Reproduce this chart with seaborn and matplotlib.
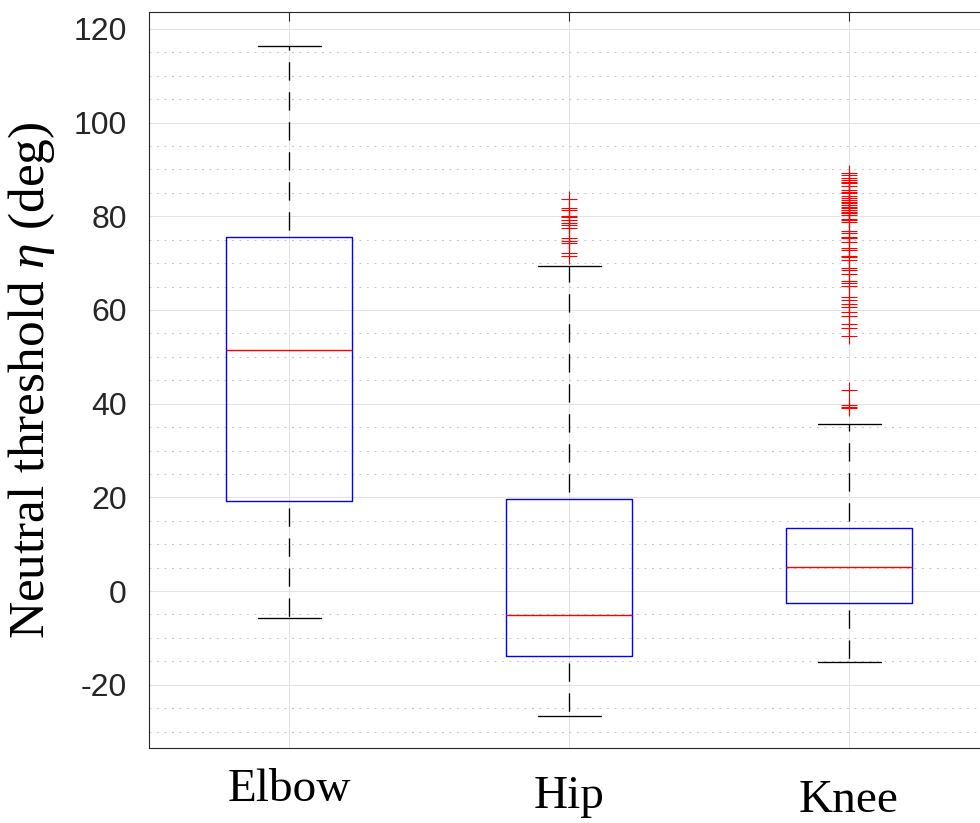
import pandas as pd
import matplotlib.pyplot as plt
from matplotlib.ticker import MultipleLocator
from matplotlib.transforms import ScaledTranslation
import seaborn as sns

# Box summary (deg)
JOINTS = ['Elbow', 'Hip', 'Knee']
WHISKER_LOW = [-5.8, -26.7, -15.2]
Q1 = [19.2, -13.9, -2.6]
MEDIAN = [51.4, -5.1, 5.1]
Q3 = [75.6, 19.6, 13.4]
WHISKER_HIGH = [116.3, 69.4, 35.6]

# Outliers (red +)
ELBOW_OUTLIERS = []
HIP_OUTLIERS = [83.6, 81.8, 81.3, 80.0, 79.8, 79.2, 78.6, 78.1, 77.6,
                75.3, 74.7, 74.2, 72.1, 71.5]
KNEE_OUTLIERS = [89.3, 88.8, 88.1, 87.7, 87.4, 87.0, 86.4, 85.6, 85.2, 84.9,
                 84.3, 83.8, 83.5, 83.1, 82.8, 82.4, 82.0, 81.7, 81.3, 81.0,
                 80.6, 80.3, 79.5, 79.2, 78.7, 76.8, 76.5, 75.6, 75.3, 74.6,
                 73.3, 72.8, 71.6, 71.2, 70.7, 68.9, 68.5, 67.6, 66.2, 65.7,
                 65.2, 62.8, 62.1, 61.3, 60.7, 59.6, 58.7, 56.9, 56.1, 54.5,
                 42.9, 39.7, 39.3, 39.0]
OUTLIERS = [ELBOW_OUTLIERS, HIP_OUTLIERS, KNEE_OUTLIERS]

# the original labels don't share a baseline (pixels down)
LABEL_SHIFT = [0, 7, 11]


def build_table():
    """Long table whose quartiles/whiskers reproduce the summary above."""
    rows = []
    for i, joint in enumerate(JOINTS):
        k = 1 + len(OUTLIERS[i])  # n = 4k + 1 -> quartiles land on samples
        vals = ([WHISKER_LOW[i]] + [Q1[i]] * k + [MEDIAN[i]] * k
                + [Q3[i]] * k + [WHISKER_HIGH[i]] + OUTLIERS[i])
        rows += [(joint, v) for v in vals]
    return pd.DataFrame(rows, columns=['joint', 'value'])


def main():
    df = build_table()

    sns.set_style('white')
    plt.rcParams['font.family'] = ['Liberation Sans', 'DejaVu Sans']
    plt.rcParams['mathtext.fontset'] = 'custom'
    plt.rcParams['mathtext.rm'] = 'Liberation Serif'
    plt.rcParams['mathtext.it'] = 'Liberation Serif:italic'
    plt.rcParams['lines.scale_dashes'] = False
    plt.rcParams['axes.unicode_minus'] = False

    fig = plt.figure(figsize=(9.8, 8.23), dpi=100)
    ax = fig.add_axes([149 / 980, 75 / 823, 840 / 980, 736 / 823])

    sns.boxplot(data=df, x='joint', y='value', order=JOINTS, ax=ax,
                fill=False, width=0.45, whis=1.5, linewidth=1.0,
                color='blue', fliersize=11.5,
                boxprops=dict(color='blue', linewidth=1.0),
                medianprops=dict(color='red', linewidth=1.0),
                whiskerprops=dict(color='black', linewidth=0.95,
                                  linestyle=(16.6, (13.2, 8.4))),
                capprops=dict(color='black', linewidth=0.95),
                flierprops=dict(marker='+', markeredgecolor='red',
                                markeredgewidth=0.8))

    ax.set_xlim(-0.5, 2.5)
    ax.set_ylim(-33.5, 123.6)
    ax.yaxis.set_major_locator(MultipleLocator(20))
    ax.yaxis.set_minor_locator(MultipleLocator(5))

    ax.set_axisbelow(True)
    ax.grid(which='major', axis='both', color='#e3e3e3', linewidth=0.75)
    ax.grid(which='minor', axis='y', color='#c4c4c4', linewidth=0.75,
            linestyle=(0, (1.3, 4.1)))

    for side in ['left', 'bottom', 'top', 'right']:
        ax.spines[side].set_visible(True)
        ax.spines[side].set_color('#262626')
        ax.spines[side].set_linewidth(0.8)

    ax.tick_params(which='both', direction='in', top=True, right=True,
                   color='#262626', width=0.8)
    ax.tick_params(which='major', length=6.5)
    ax.tick_params(which='minor', length=3.6)
    ax.tick_params(axis='y', labelsize=23, pad=16, labelcolor='#262626')
    ax.tick_params(axis='x', pad=15)
    for lbl, shift in zip(ax.get_xticklabels(), LABEL_SHIFT):
        lbl.set_family('Liberation Serif')
        lbl.set_fontsize(34)
        lbl.set_color('black')
        lbl.set_transform(lbl.get_transform()
                          + ScaledTranslation(0, -shift / 100,
                                              fig.dpi_scale_trans))

    ax.set_xlabel('')
    ax.set_ylabel(r'Neutral threshold $\eta$ (deg)', fontsize=37,
                  family='Liberation Serif', color='black')
    ax.yaxis.set_label_coords(-0.1095, 0.5)

    fig.savefig('out.png', dpi=100)


if __name__ == '__main__':
    main()
